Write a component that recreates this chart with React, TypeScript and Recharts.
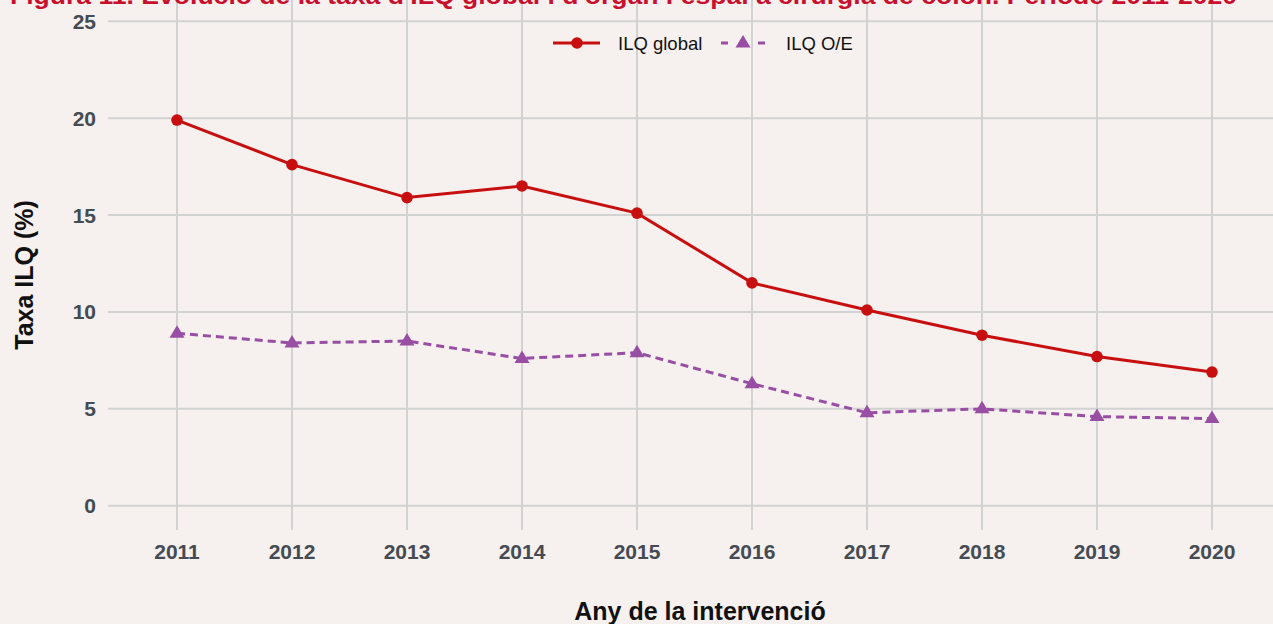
import React from 'react';
import { LineChart, Line, XAxis, YAxis, CartesianGrid, Legend } from 'recharts';

const years = [2011, 2012, 2013, 2014, 2015, 2016, 2017, 2018, 2019, 2020];
const ilqGlobal = [19.9, 17.6, 15.9, 16.5, 15.1, 11.5, 10.1, 8.8, 7.7, 6.9];
const ilqOE = [8.9, 8.4, 8.5, 7.6, 7.9, 6.3, 4.8, 5.0, 4.6, 4.5];
const yTicks = [0, 5, 10, 15, 20, 25];

const RED = '#C80F0F';
const PURPLE = '#984EA3';
const BG = '#F6F0EE';
const GRID = '#D2D2D2';
const FONT = '"Liberation Sans", Arial, sans-serif';

const data = years.map((year, i) => ({ year, global: ilqGlobal[i], oe: ilqOE[i] }));

// triangle marker, centred roughly on its centroid like ggplot's shape 17
const TriangleDot = (props: any) => {
  const { cx, cy, index } = props;
  if (cx == null || cy == null) return null;
  return (
    <polygon
      key={`tri-${index}`}
      points={`${cx - 7.5},${cy + 4.5} ${cx + 7.5},${cy + 4.5} ${cx},${cy - 8}`}
      fill={PURPLE}
    />
  );
};

const LegendContent = () => (
  <svg width={320} height={24} style={{ display: 'block' }}>
    <line x1={0} x2={47} y1={12} y2={12} stroke={RED} strokeWidth={3} />
    <circle cx={24} cy={12} r={5.8} fill={RED} />
    <text x={65} y={18.5} fontSize={18.5} fontFamily={FONT} fill="#111">
      ILQ global
    </text>
    <line x1={168} x2={212} y1={12} y2={12} stroke={PURPLE} strokeWidth={3} strokeDasharray="7 30" />
    <polygon points={`${190 - 7.5},${16.5} ${190 + 7.5},${16.5} ${190},${4}`} fill={PURPLE} />
    <text x={233} y={18.5} fontSize={18.5} fontFamily={FONT} fill="#111">
      ILQ O/E
    </text>
  </svg>
);

const tickStyle = { fill: '#444B53', fontSize: 21, fontWeight: 'bold', fontFamily: FONT };

export default function App() {
  return (
    <div
      style={{
        position: 'fixed',
        top: 0,
        left: 0,
        width: 1273,
        height: 624,
        overflow: 'hidden',
        background: BG,
        fontFamily: FONT,
      }}
    >
      <div style={{ position: 'absolute', top: -40, left: 0 }}>
        <LineChart width={1300} height={680} data={data} margin={{ top: 37, right: 19, bottom: 0, left: 0 }}>
          <CartesianGrid stroke={GRID} strokeWidth={2} horizontalValues={yTicks} verticalValues={years} />
          <XAxis
            dataKey="year"
            type="number"
            domain={[2010.4, 2020.6]}
            ticks={years}
            interval={0}
            axisLine={false}
            tickLine={false}
            tickSize={0}
            tickMargin={14}
            height={110}
            tick={tickStyle}
          />
          <YAxis
            type="number"
            domain={[-1.25, 26.25]}
            ticks={yTicks}
            allowDataOverflow
            axisLine={false}
            tickLine={false}
            tickSize={0}
            tickMargin={12}
            width={108}
            tick={tickStyle}
          />
          <Legend
            layout="horizontal"
            verticalAlign="middle"
            align="center"
            content={<LegendContent />}
            wrapperStyle={{ position: 'absolute', left: 553, top: 71, width: 320, height: 24 }}
          />
          <Line
            type="linear"
            dataKey="global"
            name="ILQ global"
            stroke={RED}
            strokeWidth={3}
            dot={{ r: 5.8, fill: RED, stroke: 'none' }}
            activeDot={false}
            isAnimationActive={false}
          />
          <Line
            type="linear"
            dataKey="oe"
            name="ILQ O/E"
            stroke={PURPLE}
            strokeWidth={3}
            strokeDasharray="8 5"
            dot={TriangleDot}
            activeDot={false}
            isAnimationActive={false}
          />
        </LineChart>
      </div>

      <svg
        width={1273}
        height={624}
        style={{ position: 'absolute', top: 0, left: 0, pointerEvents: 'none' }}
      >
        <text
          x={10}
          y={4}
          fontSize={23}
          fontWeight="bold"
          fill="#C8102E"
          fontFamily={FONT}
          textLength={1227}
          lengthAdjust="spacingAndGlyphs"
        >
          Figura 11. Evolució de la taxa d'ILQ global i d'òrgan i espai a cirurgia de colon. Període 2011-2020
        </text>
        <text x={700} y={620} fontSize={25} fontWeight="bold" fill="#111" fontFamily={FONT} textAnchor="middle">
          Any de la intervenció
        </text>
        <text
          x={33}
          y={275}
          fontSize={25}
          fontWeight="bold"
          fill="#111"
          fontFamily={FONT}
          textAnchor="middle"
          transform="rotate(-90 33 275)"
        >
          Taxa ILQ (%)
        </text>
      </svg>
    </div>
  );
}
